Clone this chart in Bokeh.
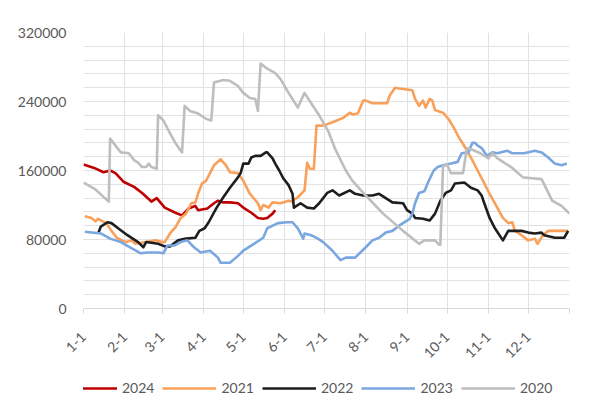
from bokeh.plotting import figure
from bokeh.layouts import column
from bokeh.models import Range1d, FixedTicker, Legend, LegendItem
from bokeh.embed import file_html
from bokeh.resources import INLINE

# ---- data (day of year, value) ----
tick_days = [0, 31, 59, 90, 120, 151, 181, 212, 243, 273, 304, 334, 365]
tick_labels = ["1-1", "2-1", "3-1", "4-1", "5-1", "6-1", "7-1", "8-1", "9-1", "10-1", "11-1", "12-1", ""]

d2024 = [0, 8, 15, 20, 24, 30, 38, 44, 51, 55, 61, 69, 74, 79, 84, 86, 93, 98, 101, 105, 110, 116, 120, 126, 131, 135, 138, 142, 144]
v2024 = [167000, 163000, 158000, 160000, 157000, 147000, 141000, 134000, 124000, 128000, 117000, 111000, 108000, 116000, 119000,
         114000, 116000, 122000, 125000, 123000, 123000, 122000, 117000, 111000, 105000, 104000, 105000, 110000, 114000]

d2021 = [1, 6, 9, 11, 17, 21, 25, 29, 32, 36, 39, 47, 54, 59, 61, 65, 69, 73, 77, 81, 84, 86, 89, 92, 98, 103, 107, 110, 116,
         120, 125, 131, 133, 135, 139, 142, 148, 154, 156, 161, 166, 168, 170, 173, 175, 180, 187, 195, 200, 202, 206, 210, 212,
         217, 228, 230, 234, 237, 247, 249, 252, 255, 257, 260, 262, 264, 270, 274, 278, 282, 285, 291, 296, 301, 305, 309, 315,
         319, 322, 324, 329, 334, 339, 341, 345, 349, 364]
v2021 = [107000, 105000, 101000, 104000, 99000, 90000, 82000, 79000, 77000, 79000, 75000, 77000, 79000, 77000, 77000, 87000,
         94000, 105000, 110000, 122000, 123000, 133000, 145000, 148000, 166000, 173000, 166000, 158000, 157000, 148000, 133000,
         122000, 114000, 120000, 117000, 123000, 122000, 125000, 124000, 129000, 137000, 169000, 162000, 162000, 212000, 212000,
         216000, 221000, 227000, 225000, 226000, 241000, 241000, 238000, 238000, 247000, 256000, 255000, 253000, 243000, 235000,
         241000, 233000, 243000, 241000, 230000, 227000, 220000, 210000, 198000, 191000, 175000, 160000, 145000, 133000, 122000,
         105000, 99000, 100000, 90000, 85000, 79000, 81000, 75000, 85000, 90000, 90000]

d2022 = [11, 13, 18, 21, 26, 33, 41, 45, 47, 56, 61, 65, 71, 77, 84, 87, 91, 94, 100, 105, 110, 116, 118, 120, 124, 126, 129,
         133, 137, 138, 142, 144, 147, 150, 154, 157, 158, 163, 168, 173, 177, 180, 183, 187, 192, 200, 204, 210, 217, 222, 227,
         232, 240, 243, 247, 249, 255, 260, 264, 268, 272, 276, 279, 286, 291, 296, 299, 301, 305, 309, 315, 319, 329, 334, 339,
         344, 346, 354, 361, 364]
v2022 = [87000, 95000, 100000, 99000, 93000, 85000, 77000, 71000, 77000, 75000, 72000, 72000, 79000, 81000, 82000, 90000,
         93000, 100000, 117000, 129000, 140000, 152000, 157000, 168000, 168000, 175000, 177000, 177000, 181000, 181000, 174000,
         168000, 160000, 151000, 143000, 133000, 117000, 122000, 117000, 116000, 122000, 128000, 134000, 137000, 131000, 137000,
         133000, 131000, 131000, 133000, 128000, 123000, 122000, 114000, 110000, 105000, 104000, 102000, 110000, 125000, 134000,
         137000, 145000, 146000, 140000, 137000, 131000, 122000, 105000, 93000, 79000, 90000, 90000, 88000, 87000, 88000, 85000,
         82000, 82000, 90000]

d2023 = [1, 13, 20, 28, 35, 43, 48, 56, 60, 63, 68, 73, 78, 83, 88, 95, 101, 103, 110, 116, 120, 128, 135, 138, 146, 153, 157,
         161, 165, 166, 171, 176, 180, 187, 193, 197, 204, 212, 217, 222, 227, 232, 237, 245, 247, 249, 252, 256, 259, 263, 266,
         270, 276, 281, 284, 289, 292, 294, 296, 299, 303, 307, 311, 318, 322, 331, 339, 344, 349, 354, 359, 363]
v2023 = [89000, 87000, 81000, 77000, 71000, 64000, 65000, 65000, 64000, 73000, 73000, 77000, 79000, 71000, 65000, 67000, 59000,
         53000, 53000, 61000, 67000, 75000, 82000, 93000, 99000, 100000, 100000, 93000, 81000, 87000, 85000, 81000, 77000, 67000,
         56000, 59000, 59000, 71000, 79000, 82000, 88000, 90000, 96000, 104000, 110000, 122000, 134000, 136000, 147000, 160000,
         164000, 166000, 168000, 170000, 180000, 181000, 192000, 192000, 189000, 186000, 177000, 181000, 180000, 183000, 180000,
         180000, 183000, 181000, 175000, 168000, 166000, 168000]

d2020 = [0, 9, 16, 19, 20, 28, 34, 38, 41, 44, 47, 49, 51, 55, 56, 60, 64, 69, 74, 76, 80, 86, 92, 96, 98, 105, 110, 116, 120,
         125, 129, 131, 133, 138, 144, 148, 154, 161, 166, 171, 177, 184, 189, 197, 202, 212, 225, 240, 252, 256, 264, 267, 268,
         270, 273, 276, 285, 288, 292, 298, 304, 307, 311, 322, 330, 337, 344, 352, 359, 365]
v2020 = [146000, 138000, 128000, 124000, 197000, 181000, 180000, 172000, 169000, 164000, 164000, 168000, 164000, 162000,
         224000, 218000, 206000, 192000, 181000, 235000, 229000, 226000, 220000, 218000, 262000, 265000, 264000, 258000, 250000,
         244000, 243000, 229000, 284000, 278000, 273000, 266000, 250000, 233000, 250000, 238000, 224000, 205000, 185000, 160000,
         148000, 131000, 110000, 90000, 75000, 79000, 79000, 74000, 74000, 165000, 167000, 157000, 157000, 186000, 184000,
         180000, 174000, 180000, 174000, 163000, 152000, 151000, 150000, 125000, 119000, 110000]

series = [
    ("2024", d2024, v2024, "#C00000"),
    ("2021", d2021, v2021, "#F9A05A"),
    ("2022", d2022, v2022, "#1E1E1E"),
    ("2023", d2023, v2023, "#7BA7E1"),
    ("2020", d2020, v2020, "#BEBEBE"),
]

FONT = "Lato"
TXT = "#595959"
LW = 2.6

main = figure(width=598, height=370, output_backend="svg", toolbar_location=None,
              x_range=Range1d(0, 365), y_range=Range1d(0, 320000),
              min_border_left=83, min_border_right=29, min_border_top=32, min_border_bottom=62)
main.outline_line_color = None
main.border_fill_color = "white"

for name, xs, ys, col in series:
    main.line(xs, ys, line_color=col, line_width=LW, line_join="round")

# axes
main.xaxis.ticker = FixedTicker(ticks=tick_days)
main.xaxis.major_label_overrides = {d: lab for d, lab in zip(tick_days, tick_labels)}
main.xaxis.major_label_orientation = 0.785398
main.xaxis.axis_line_color = "#D9D9D9"
main.xaxis.major_tick_line_color = "#D9D9D9"
main.xaxis.major_tick_in = 0
main.xaxis.major_tick_out = 5
main.xaxis.minor_tick_line_color = None
main.xaxis.major_label_text_font = FONT
main.xaxis.major_label_text_font_size = "14px"
main.xaxis.major_label_text_color = TXT
main.xaxis.major_label_standoff = 21

yt = [0, 80000, 160000, 240000, 320000]
main.yaxis.ticker = FixedTicker(ticks=yt, minor_ticks=list(range(0, 320001, 16000)))
main.yaxis.axis_line_color = None
main.yaxis.major_tick_line_color = None
main.yaxis.minor_tick_line_color = None
main.yaxis.major_label_text_font = FONT
main.yaxis.major_label_text_font_size = "14px"
main.yaxis.major_label_text_color = TXT
main.yaxis.major_label_standoff = 11
main.yaxis.formatter.use_scientific = False

main.xgrid.ticker = FixedTicker(ticks=tick_days)
main.xgrid.grid_line_color = "#E2E2E2"
main.ygrid.grid_line_color = "#E2E2E2"
main.ygrid.minor_grid_line_color = "#E2E2E2"

# legend strip (separate small figure; its lines fall outside its range, only the legend shows)
leg = figure(width=598, height=49, output_backend="svg", toolbar_location=None,
             x_axis_type=None, y_axis_type=None, min_border=0,
             x_range=Range1d(0, 1), y_range=Range1d(0, 1))
leg.outline_line_color = None
leg.border_fill_color = "white"
items = []
for name, xs, ys, col in series:
    r = leg.line(xs, ys, line_color=col, line_width=LW)
    items.append(LegendItem(label=name, renderers=[r]))
legend = Legend(items=items, orientation="horizontal", location=(-20, 23),
                glyph_width=54, glyph_height=14, label_standoff=5, spacing=8,
                padding=0, margin=0, border_line_color=None, background_fill_alpha=0,
                label_text_font=FONT, label_text_font_size="14px", label_text_color=TXT)
leg.add_layout(legend)

p = column(main, leg, spacing=0)

open("out.html", "w").write(file_html(p, INLINE))
